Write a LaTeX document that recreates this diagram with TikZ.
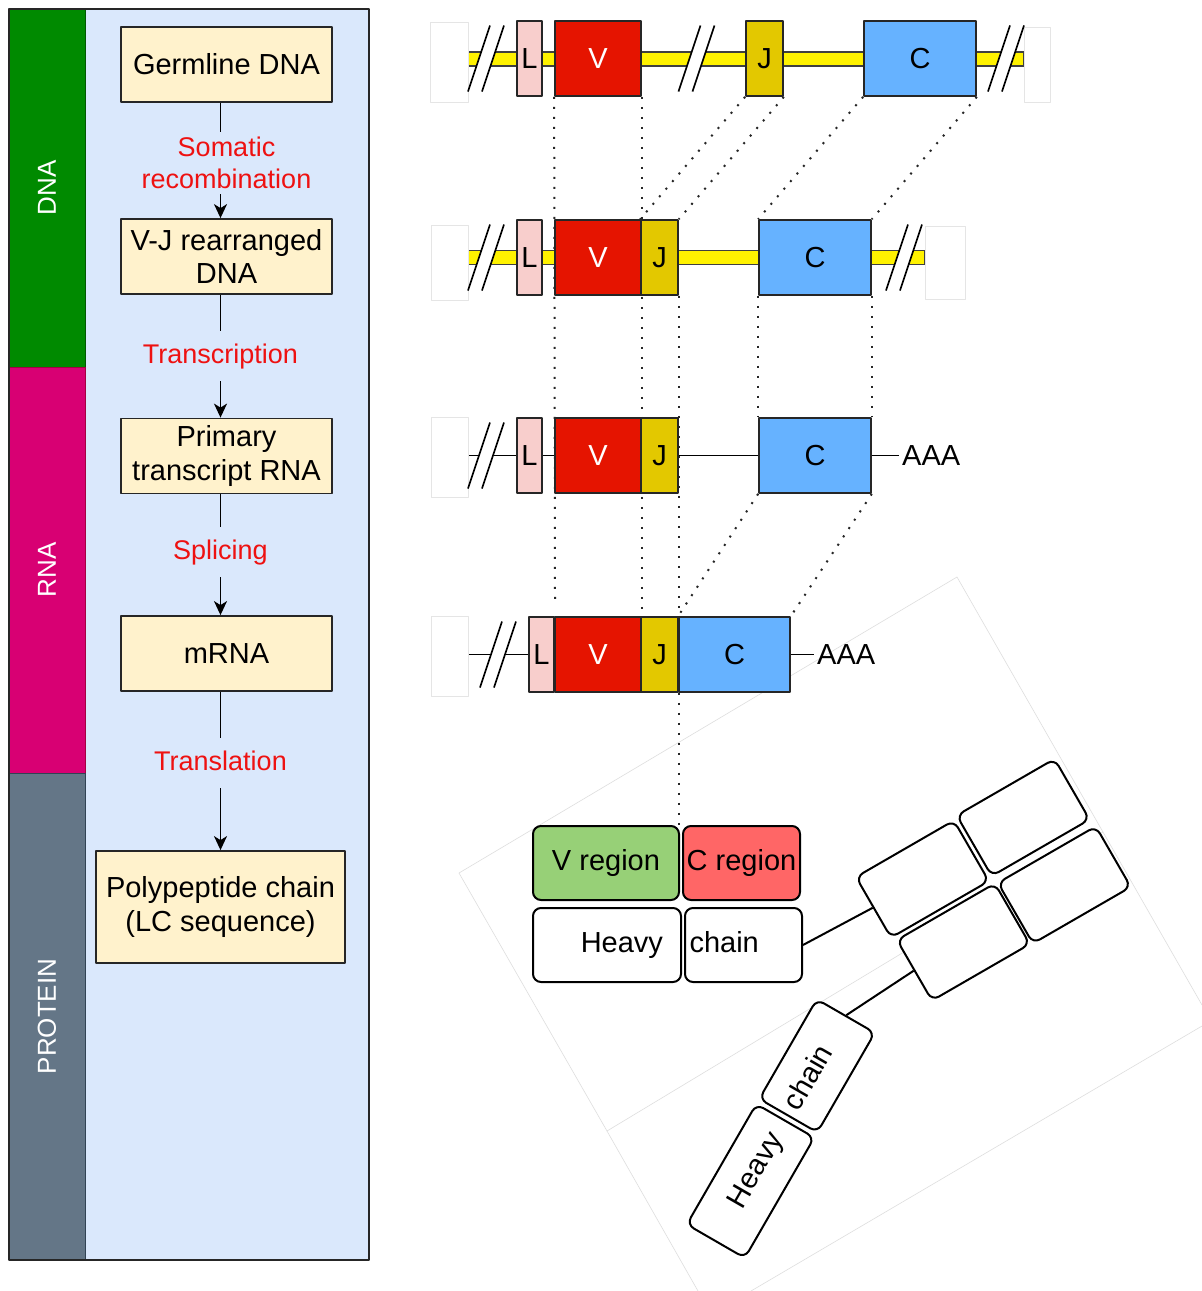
\documentclass[tikz,border=0pt]{standalone}
\usepackage{fontspec}
\setmainfont{Liberation Sans}
\usetikzlibrary{arrows.meta}
\pgfdeclarelayer{bglayer}
\pgfdeclarelayer{backlayer}
\pgfsetlayers{bglayer,backlayer,main}
\definecolor{dnagreen}{HTML}{008A00}
\definecolor{dnagreenline}{HTML}{005700}
\definecolor{rnamag}{HTML}{D80073}
\definecolor{rnamagline}{HTML}{A50040}
\definecolor{protgray}{HTML}{647687}
\definecolor{protgrayline}{HTML}{314354}
\definecolor{panelblue}{HTML}{DAE8FC}
\definecolor{boxfill}{HTML}{FFF2CC}
\definecolor{lpink}{HTML}{F8CECC}
\definecolor{vred}{HTML}{E51400}
\definecolor{jyel}{HTML}{E3C800}
\definecolor{cblue}{HTML}{66B2FF}
\definecolor{vgreen}{HTML}{97D077}
\definecolor{cred}{HTML}{FF6666}
\definecolor{labred}{HTML}{EE1111}
\newcommand\bxf{\fontsize{29}{33.5}\selectfont}
\newcommand\lbf{\fontsize{27}{32}\selectfont}
\newcommand\clf{\fontsize{26}{30}\selectfont}
\begin{document}
\begin{tikzpicture}[x=1pt,y=-1pt,line join=round,
  procbox/.style={draw=black!85,fill=boxfill,line width=1.8pt,align=center,font=\bxf,inner sep=0pt,minimum height=75pt},
  steplab/.style={fill=panelblue,text=labred,font=\lbf,align=center,inner xsep=2pt,inner ysep=12pt,text height=20pt,text depth=6pt},
  steplabtwo/.style={fill=panelblue,text=labred,font=\lbf,align=center,inner xsep=2pt,inner ysep=5pt},
  arr/.style={line width=1.8pt,-{Stealth[length=14pt,width=13pt,inset=4pt]}},
  colbar/.style={rotate=90,minimum height=76pt,inner sep=0pt,text=white,font=\clf,line width=1pt},
  seg/.style={draw=black!85,line width=1.7pt,minimum height=75pt,inner sep=0pt,font=\bxf},
  gL/.style={seg,fill=lpink,minimum width=25pt},
  gV/.style={seg,fill=vred,text=white,minimum width=86pt},
  gJ/.style={seg,fill=jyel,minimum width=37pt},
  gC/.style={seg,fill=cblue,minimum width=112pt},
  dotln/.style={line width=2pt,dash pattern=on 2pt off 8pt,black!85},
  band/.style={fill=yellow,draw=black!75,line width=1.2pt},
  ab/.style={draw,line width=2pt,rounded corners=8pt,minimum height=74pt,inner sep=0pt,font=\bxf},
  abtxt/.style={text height=21pt,text depth=6pt},
  gbox/.style={draw,line width=2pt,rounded corners=8pt,fill=white,minimum width=113pt,minimum height=70pt,inner sep=0pt,transform shape},
  faint/.style={draw=black!13,line width=0.6pt},
  ghost/.style={draw=black!10,fill=white,line width=0.6pt,inner sep=0pt},
  aaa/.style={font=\bxf,anchor=west,inner xsep=3pt,inner ysep=0pt},
  brk/.pic={
    \fill[white] (-18,33) -- (4,-33) -- (18,-33) -- (-4,33) -- cycle;
    \draw[line width=1.7pt] (-18,33) -- (4,-33);
    \draw[line width=1.7pt] (-4,33) -- (18,-33);
  }
]
\useasboundingbox (0,0) rectangle (1202,1291);
\begin{pgfonlayer}{bglayer}
  \fill[white] (0,0) rectangle (1202,1291);
  \draw[faint] (459,873) -- (957,577) -- (1202,1005);
  \draw[faint] (459,873) -- (607,1131) -- (1103,832);
  \draw[faint] (607,1131) -- (698,1291);
  \draw[faint] (751,1291) -- (1202,1026);
  \fill[panelblue] (85,9) rectangle (369,1260);
\end{pgfonlayer}

% left panel
\node[colbar,fill=dnagreen,draw=dnagreenline,minimum width=358pt] (dnabar) at (47,188) {DNA};
\node[colbar,fill=rnamag,draw=rnamagline,minimum width=406pt] (rnabar) at (47,570) {RNA};
\node[colbar,fill=protgray,draw=protgrayline,minimum width=487pt] (protbar) at (47,1016.5) {PROTEIN};
\draw[line width=1.8pt,draw=black!85] (9,9) rectangle (369,1260);

\node[procbox,minimum width=211pt] (germ) at (226.5,64.5) {Germline DNA};
\node[procbox,minimum width=211pt] (vj) at (226.5,256.5) {V-J rearranged\\DNA};
\node[procbox,minimum width=211pt] (prim) at (226.5,456) {Primary\\transcript RNA};
\node[procbox,minimum width=211pt] (mrna) at (226.5,653.5) {mRNA};
\node[procbox,minimum width=249pt,minimum height=112pt] (poly) at (220.5,907) {Polypeptide chain\\(LC sequence)};

\draw[arr] (germ.south -| poly.north) -- node[steplabtwo,pos=0.52,xshift=6pt]{Somatic\\recombination} (vj.north -| poly.north);
\draw[arr] (vj.south -| poly.north) -- node[steplab]{Transcription} (prim.north -| poly.north);
\draw[arr] (prim.south -| poly.north) -- node[steplab,pos=0.48]{Splicing} (mrna.north -| poly.north);
\draw[arr] (mrna.south -| poly.north) -- node[steplab,pos=0.45]{Translation} (poly.north);

% gene rows
\node[gL] (r1L) at (529.5,58.5) {L};
\node[gV] (r1V) at (598,58.5) {V};
\node[gJ] (r1J) at (764.5,58.5) {J};
\node[gC] (r1C) at (920,58.5) {C};

\node[gL] (r2L) at (529.5,257.5) {L};
\node[gV] (r2V) at (598,257.5) {V};
\node[gJ] (r2J) at (659.5,257.5) {J};
\node[gC] (r2C) at (815,257.5) {C};

\node[gL] (r3L) at (529.5,455.5) {L};
\node[gV] (r3V) at (598,455.5) {V};
\node[gJ] (r3J) at (659.5,455.5) {J};
\node[gC] (r3C) at (815,455.5) {C};

\node[gL] (r4L) at (541.5,654.5) {L};
\node[gV] (r4V) at (598,654.5) {V};
\node[gJ] (r4J) at (659.5,654.5) {J};
\node[gC,minimum width=111pt] (r4C) at (734.5,654.5) {C};

\node[ghost,minimum width=38pt,minimum height=80pt] (g1l) at (449,62) {};
\node[ghost,minimum width=26pt,minimum height=75pt] (g1r) at (1037,64.5) {};
\node[ghost,minimum width=37pt,minimum height=75pt] (g2l) at (449.5,262.5) {};
\node[ghost,minimum width=40pt,minimum height=73pt] (g2r) at (945,262.5) {};
\node[ghost,minimum width=37pt,minimum height=80pt] (g3l) at (449.5,457.5) {};
\node[ghost,minimum width=37pt,minimum height=80pt] (g4l) at (449.5,656.5) {};

\coordinate (vend) at (555,599);
\begin{pgfonlayer}{backlayer}
  \draw[dotln] (r1V.south west) -- (vend);
  \draw[dotln] (r1V.south east) -- (r4V.north east);
  \draw[dotln] (r1J.south west) -- (r2J.north west);
  \draw[dotln] (r1J.south east) -- (r2J.north east);
  \draw[dotln] (r1C.south west) -- (r2C.north west);
  \draw[dotln] (r1C.south east) -- (r2C.north east);
  \draw[dotln] (r2J.south east) -- (r4J.north east);
  \draw[dotln] (r2C.south west) -- (r3C.north west);
  \draw[dotln] (r2C.south east) -- (r3C.north east);
  \draw[dotln] (r3C.south west) -- (r4C.north west);
  \draw[dotln] (r3C.south east) -- (r4C.north east);
  \draw[band] (468,52) rectangle (1024,66);
  \draw[band] (468,250.5) rectangle (925,264.5);
  \draw[line width=1.7pt] (g3l.east |- r3L.west) -- (r3C.east);
  \draw[line width=1.7pt] (g4l.east |- r4L.west) -- (r4C.east);
\end{pgfonlayer}

\node[aaa] (aaa3) at (899,455.5) {AAA};
\draw[line width=1.7pt] (r3C.east) -- (aaa3.west);
\node[aaa] (aaa4) at (814,654.5) {AAA};
\draw[line width=1.7pt] (r4C.east) -- (aaa4.west);

\pic at (486,58.5) {brk};
\pic at (696.5,58.5) {brk};
\pic at (1006,58.5) {brk};
\pic at (486,257.5) {brk};
\pic at (904,257.5) {brk};
\pic at (486,455.5) {brk};
\pic at (498,654.5) {brk};

% protein
\node[ab,fill=vgreen,minimum width=146pt] (vreg) at (606,863) {V region};
\node[ab,fill=cred,minimum width=117pt] (creg) at (741.5,863) {C region};
\node[ab,abtxt,fill=white,minimum width=148pt,text width=112pt,align=right] (hvy) at (607,945) {Heavy};
\node[ab,abtxt,fill=white,minimum width=117pt,text width=108pt,align=left] (chn) at (743.5,945) {chain};
\begin{pgfonlayer}{backlayer}
  \draw[dotln] (r4J.south east) -- (r4J.south east |- vreg.north);
\end{pgfonlayer}

\begin{scope}[shift={(856,877)},rotate=30]
  \node[gbox] (ga) at (56.5,35) {};
  \node[gbox] (gb) at (174.5,32) {};
  \node[gbox] (gc) at (60.5,110) {};
  \node[gbox] (gd) at (176.5,111) {};
\end{scope}
\begin{scope}[rotate=60]
  \node[ab,abtxt,fill=white,transform shape,minimum width=139pt,minimum height=67pt,text width=106pt,align=right] (lhvy) at (-647.5,1240.5) {Heavy};
  \node[ab,abtxt,fill=white,transform shape,minimum width=115pt,minimum height=67pt,text width=99pt,align=left] (lchn) at (-514.5,1240.5) {chain};
\end{scope}
\draw[line width=2pt] (chn.east) -- (ga.west);
\draw[line width=2pt] (gc.west) -- (lchn.east);
\end{tikzpicture}
\end{document}
